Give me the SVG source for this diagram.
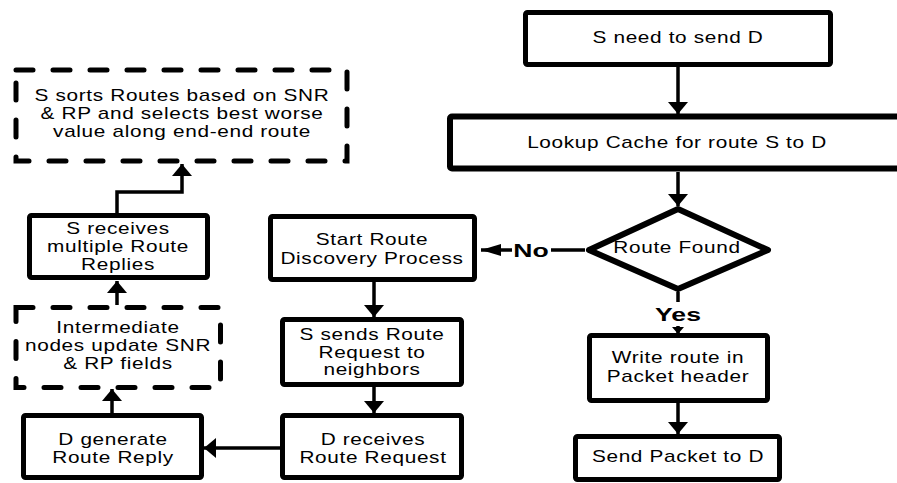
<svg xmlns="http://www.w3.org/2000/svg" width="897" height="483" viewBox="0 0 897 483">
<style>
.box{fill:#fff;stroke:#000;stroke-width:5;stroke-linejoin:round}
.dash{fill:#fff;stroke:#000;stroke-width:5;stroke-dasharray:17 20;stroke-linecap:round}
.t{font-family:"Liberation Sans",Arial,sans-serif;font-size:16px;letter-spacing:0.5px;fill:#000;text-anchor:middle}
.b{font-family:"Liberation Sans",Arial,sans-serif;font-size:19px;font-weight:bold;fill:#000;text-anchor:middle}
.c{fill:none;stroke:#000;stroke-width:3.5}
</style>
<defs>
<marker id="ah" viewBox="0 0 12 20" refX="12" refY="10" markerWidth="12" markerHeight="20" orient="auto" markerUnits="userSpaceOnUse"><path d="M0,0 L12,10 L0,20 z" fill="#000"/></marker>
<marker id="ahNo" viewBox="0 0 20 12" refX="20" refY="6" markerWidth="20" markerHeight="12" orient="auto" markerUnits="userSpaceOnUse"><path d="M0,0 L20,6 L0,12 z" fill="#000"/></marker>
<marker id="ahS" viewBox="0 0 7 12" refX="7" refY="6" markerWidth="7" markerHeight="12" orient="auto" markerUnits="userSpaceOnUse"><path d="M0,0 L7,6 L0,12 z" fill="#000"/></marker>
</defs>
<g id="connectors">
<path class="c" d="M678,67 V114" marker-end="url(#ah)"/>
<path class="c" d="M678,172 V206" marker-end="url(#ah)"/>
<path class="c" d="M585,250 H551 M512,250 H481" marker-end="url(#ahNo)"/>
<path class="c" d="M678,292 V302"/>
<path class="c" d="M678,326 V334" marker-end="url(#ahS)"/>
<path class="c" d="M678,403 V434" marker-end="url(#ah)"/>
<path class="c" d="M374,282 V317" marker-end="url(#ah)"/>
<path class="c" d="M374,387 V413" marker-end="url(#ah)"/>
<path class="c" d="M280,448 H204" marker-end="url(#ah)"/>
<path class="c" d="M112,413 V389" marker-end="url(#ah)"/>
<path class="c" d="M117,305 V281" marker-end="url(#ah)"/>
<path class="c" d="M117,213 V192 H182 V164" marker-end="url(#ah)"/>
<text class="b" transform="translate(531,257) scale(1.4,1)">No</text>
<text class="b" transform="translate(678,321) scale(1.4,1)">Yes</text>
</g>
<g id="n_need">
<rect class="box" x="525.5" y="12.5" width="305" height="52" rx="2"/>
<text class="t" transform="translate(678,43) scale(1.3,1)">S need to send D</text>
</g>
<g id="n_lookup">
<rect class="box" x="450" y="116.5" width="460" height="52" rx="2" style="stroke-width:6"/>
<text class="t" transform="translate(677,148) scale(1.3,1)">Lookup Cache for route S to D</text>
</g>
<g id="n_found">
<polygon class="box" points="678,209 768,250 678,289 589,250" style="stroke-width:6"/>
<text class="t" transform="translate(677,253) scale(1.3,1)">Route Found</text>
</g>
<g id="n_write">
<rect class="box" x="589.5" y="335.5" width="178" height="65" rx="2"/>
<text class="t" transform="translate(678,0) scale(1.3,1)"><tspan x="0" y="363">Write route in</tspan><tspan x="0" y="382">Packet header</tspan></text>
</g>
<g id="n_send">
<rect class="box" x="575.5" y="436.5" width="204" height="43" rx="2"/>
<text class="t" transform="translate(678,462) scale(1.3,1)">Send Packet to D</text>
</g>
<g id="n_start">
<rect class="box" x="270.5" y="216.5" width="204" height="63" rx="2"/>
<text class="t" transform="translate(372,0) scale(1.3,1)"><tspan x="0" y="245">Start Route</tspan><tspan x="0" y="264">Discovery Process</tspan></text>
</g>
<g id="n_ssends">
<rect class="box" x="282.5" y="319.5" width="179" height="65" rx="2"/>
<text class="t" transform="translate(372,0) scale(1.3,1)"><tspan x="0" y="340">S sends Route</tspan><tspan x="0" y="358">Request to</tspan><tspan x="0" y="375">neighbors</tspan></text>
</g>
<g id="n_drecv">
<rect class="box" x="282.5" y="415.5" width="179" height="62" rx="2"/>
<text class="t" transform="translate(373,0) scale(1.3,1)"><tspan x="0" y="445">D receives</tspan><tspan x="0" y="463">Route Request</tspan></text>
</g>
<g id="n_dgen">
<rect class="box" x="23.5" y="415.5" width="178" height="62" rx="2"/>
<text class="t" transform="translate(113,0) scale(1.3,1)"><tspan x="0" y="445">D generate</tspan><tspan x="0" y="463">Route Reply</tspan></text>
</g>
<g id="n_inter">
<rect class="dash" x="16" y="307.5" width="204.5" height="80"/>
<text class="t" transform="translate(118,0) scale(1.3,1)"><tspan x="0" y="333">Intermediate</tspan><tspan x="0" y="351">nodes update SNR</tspan><tspan x="0" y="369">&amp; RP fields</tspan></text>
</g>
<g id="n_srecv">
<rect class="box" x="29.5" y="215.5" width="178" height="62" rx="2"/>
<text class="t" transform="translate(118,0) scale(1.3,1)"><tspan x="0" y="234">S receives</tspan><tspan x="0" y="252">multiple Route</tspan><tspan x="0" y="270">Replies</tspan></text>
</g>
<g id="n_sorts">
<rect class="dash" x="16" y="70" width="331" height="91"/>
<text class="t" transform="translate(182,0) scale(1.3,1)"><tspan x="0" y="101">S sorts Routes based on SNR</tspan><tspan x="0" y="119">&amp; RP and selects best worse</tspan><tspan x="0" y="137">value along end-end route</tspan></text>
</g>
</svg>
